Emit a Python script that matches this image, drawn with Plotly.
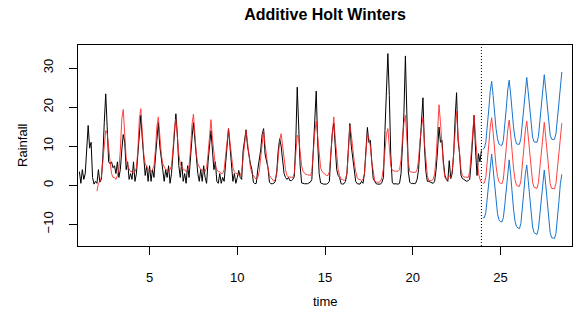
import plotly.graph_objects as go

# ---------------- data ----------------
start_obs = 1.0          # first observation (time units = years)
start_fit = 2.0          # first fitted value
start_fc = 24.0          # first forecast value
freq = 12

rain_obs = [
    3.5, 0.5, 4.0, 1.5, 3.0, 9.0, 15.3, 9.5, 11.0, 2.0, 0.3, 1.0,      # 1
    0.5, 4.0, 0.8, 1.5, 7.0, 16.0, 23.4, 15.0, 6.0, 5.5, 6.0, 4.5,     # 2
    5.0, 3.0, 6.0, 2.0, 4.0, 9.0, 13.0, 11.0, 4.0, 6.0, 1.5, 3.0,      # 3
    1.5, 6.0, 1.0, 3.0, 8.0, 13.0, 17.9, 12.0, 6.0, 2.5, 5.0, 1.0,     # 4
    5.0, 1.0, 4.0, 2.0, 7.0, 12.0, 16.0, 10.0, 6.5, 3.0, 1.0, 4.0,     # 5
    2.0, 5.0, 0.5, 3.0, 9.0, 14.0, 18.3, 13.0, 5.0, 2.0, 6.0, 1.0,     # 6
    3.0, 0.5, 5.0, 2.0, 8.0, 12.0, 16.0, 11.0, 7.0, 3.0, 1.0, 4.0,     # 7
    1.0, 5.0, 2.0, 0.5, 6.0, 10.0, 14.0, 9.0, 4.0, 6.0, 1.0, 0.5,      # 8
    3.0, 0.5, 2.0, 1.0, 6.0, 11.0, 14.5, 10.0, 5.0, 1.0, 3.0, 0.5,     # 9
    2.0, 3.8, 2.0, 1.5, 8.9, 12.0, 14.2, 10.0, 7.0, 5.5, 4.0, 0.8,     # 10
    0.4, 0.5, 4.0, 6.0, 9.0, 13.0, 14.5, 8.0, 6.4, 4.5, 0.8, 0.4,      # 11
    0.4, 0.5, 1.0, 3.5, 8.9, 11.9, 10.0, 6.0, 3.0, 2.0, 1.5, 2.0,      # 12
    1.2, 1.2, 1.5, 2.2, 11.0, 25.1, 12.0, 5.0, 0.6, 0.4, 0.4, 0.4,     # 13
    0.4, 0.6, 0.8, 1.5, 8.5, 17.0, 24.1, 11.0, 3.0, 0.6, 0.4, 0.3,     # 14
    0.3, 0.3, 0.5, 1.0, 8.0, 13.5, 15.9, 10.0, 4.0, 2.5, 2.0, 0.4,     # 15
    0.3, 0.4, 1.0, 3.0, 9.0, 15.8, 10.0, 7.0, 3.0, 1.0, 0.4, 0.3,      # 16
    0.3, 1.0, 0.5, 3.0, 8.5, 14.8, 11.0, 11.5, 6.0, 1.7, 1.0, 0.4,     # 17
    0.3, 0.3, 0.3, 0.8, 2.0, 14.0, 27.0, 33.7, 23.0, 7.7, 0.8, 0.3,    # 18
    0.4, 0.3, 0.3, 0.5, 3.0, 10.2, 18.7, 33.1, 14.5, 3.4, 0.8, 0.4,    # 19
    0.5, 0.4, 0.5, 1.5, 4.0, 10.0, 16.0, 22.4, 10.0, 3.5, 1.0, 1.0,    # 20
    0.8, 0.6, 0.5, 1.0, 4.0, 9.0, 14.9, 11.0, 11.5, 6.0, 2.6, 1.5,     # 21
    1.0, 6.3, 1.7, 3.0, 8.0, 17.0, 23.7, 11.6, 8.3, 2.6, 1.7, 1.5,     # 22
    1.3, 1.0, 1.2, 1.5, 6.0, 12.0, 17.9, 9.0, 2.5, 8.1, 6.0, 8.9,      # 23
]

rain_fitted = [
    -1.5, 0.5, 1.0, 2.0, 6.0, 11.0, 14.0, 13.3, 9.0, 6.0, 3.0, 2.0,    # 2
    2.0, 1.5, 2.5, 4.0, 9.0, 17.0, 19.4, 12.0, 7.0, 5.0, 4.0, 3.5,     # 3
    3.5, 3.0, 3.5, 4.5, 9.0, 17.0, 19.6, 12.0, 8.0, 5.5, 4.5, 4.0,     # 4
    4.0, 3.5, 4.0, 5.0, 9.0, 15.0, 17.5, 11.5, 8.0, 5.5, 4.5, 4.0,     # 5
    4.0, 3.5, 4.0, 5.0, 9.0, 14.5, 17.0, 12.0, 8.0, 5.5, 4.5, 4.0,     # 6
    4.0, 3.5, 4.0, 5.0, 9.0, 15.5, 18.2, 12.0, 8.0, 5.5, 4.5, 4.0,     # 7
    4.0, 3.5, 3.5, 4.5, 8.0, 13.0, 16.8, 12.0, 7.5, 5.0, 4.0, 3.5,     # 8
    3.5, 3.0, 3.0, 4.0, 7.5, 12.0, 14.5, 11.0, 7.0, 4.5, 3.5, 3.0,     # 9
    3.0, 2.5, 2.5, 3.5, 7.0, 11.5, 14.0, 11.0, 7.0, 4.5, 3.0, 2.5,     # 10
    2.0, 1.5, 2.0, 3.5, 7.0, 11.5, 14.0, 10.5, 7.0, 4.5, 2.5, 2.0,     # 11
    1.5, 1.0, 1.5, 3.0, 7.0, 11.5, 13.2, 10.0, 6.5, 4.0, 2.5, 2.1,     # 12
    2.1, 2.0, 2.0, 3.0, 7.5, 12.8, 12.0, 8.0, 5.0, 3.5, 3.0, 2.8,      # 13
    2.7, 2.5, 2.5, 3.5, 9.0, 13.5, 16.4, 12.0, 7.0, 4.5, 3.5, 3.0,     # 14
    2.8, 2.5, 2.5, 3.5, 9.0, 14.5, 17.5, 12.0, 7.0, 4.0, 2.5, 1.5,     # 15
    1.5, 1.2, 1.5, 3.0, 8.5, 15.3, 13.0, 9.0, 6.0, 3.5, 2.0, 1.5,      # 16
    1.5, 1.2, 1.5, 3.0, 8.0, 13.3, 12.0, 10.0, 6.0, 3.0, 1.2, 0.8,     # 17
    0.8, 0.8, 1.0, 2.0, 4.5, 9.0, 13.0, 14.5, 10.0, 5.0, 3.8, 3.6,     # 18
    3.6, 3.6, 3.6, 4.0, 6.5, 12.0, 16.0, 17.9, 12.0, 6.0, 3.5, 3.3,    # 19
    3.3, 3.3, 3.3, 4.0, 6.5, 11.5, 15.5, 17.5, 11.0, 5.5, 2.5, 1.2,    # 20
    1.2, 1.2, 1.5, 3.0, 7.0, 14.0, 20.6, 16.0, 10.0, 5.0, 2.0, 1.5,    # 21
    1.5, 2.5, 2.0, 3.5, 8.0, 14.5, 18.9, 13.0, 8.0, 4.0, 2.5, 2.1,     # 22
    2.1, 2.0, 2.0, 3.5, 9.0, 15.0, 17.9, 12.0, 7.0, 3.0, 1.5, 0.8,     # 23
]

fc_mean = [
    0.5, 0.6, 2.0, 5.6, 10.2, 14.8, 17.3, 13.6, 9.0, 5.0, 2.3, 0.9,    # 24
    0.5, 0.4, 1.6, 5.0, 9.6, 14.2, 16.7, 13.0, 8.3, 4.2, 1.4, 0.0,     # 25
    -0.2, -0.3, 1.1, 4.7, 9.3, 13.9, 16.4, 12.6, 7.9, 3.7, 0.8, -0.5,  # 26
    -0.7, -0.8, 0.7, 4.4, 9.0, 13.6, 16.1, 12.3, 7.6, 3.3, 0.4, -0.8,  # 27
    -0.9, -0.9, 0.5, 4.2, 8.8, 13.4, 15.9,                             # 28
]

fc_upper = [
    9.3, 9.5, 11.0, 14.6, 19.3, 24.0, 26.6, 23.0, 18.4, 14.5, 11.9, 10.6,
    10.3, 10.2, 11.5, 15.0, 19.7, 24.4, 26.9, 23.3, 18.7, 14.7, 12.0, 10.6,
    10.5, 10.5, 12.0, 15.7, 20.3, 25.0, 27.6, 23.9, 19.3, 15.1, 12.3, 11.1,
    11.0, 11.0, 12.5, 16.3, 21.0, 25.7, 28.3, 24.5, 19.9, 15.7, 12.9, 11.8,
    11.7, 11.8, 13.3, 17.1, 21.8, 26.4, 29.0,
]

fc_lower = [
    -8.3, -8.3, -7.0, -3.4, 1.1, 5.6, 8.0, 4.2, -0.4, -4.5, -7.3, -8.8,
    -9.3, -9.4, -8.3, -5.0, -0.5, 4.0, 6.5, 2.7, -2.1, -6.3, -9.2, -10.6,
    -10.9, -11.1, -9.8, -6.3, -1.7, 2.8, 5.2, 1.3, -3.5, -7.7, -10.7, -12.1,
    -12.4, -12.6, -11.1, -7.5, -3.0, 1.5, 3.9, 0.1, -4.7, -9.1, -12.1, -13.4,
    -13.5, -13.6, -12.3, -8.7, -4.2, 0.4, 2.8,
]

x_ticks = [5, 10, 15, 20, 25]
y_ticks = [-10, 0, 10, 20, 30]

# ---------------- time axes ----------------
t_obs = [start_obs + i / freq for i in range(len(rain_obs))]
t_fit = [start_fit + i / freq for i in range(len(rain_fitted))]
t_fc = [start_fc + i / freq for i in range(len(fc_mean))]

FONT = "Liberation Sans, Arial, sans-serif"
BLUE = "#1874CD"
RED = "#FF2020"

fig = go.Figure()
fig.add_trace(go.Scatter(x=t_obs, y=rain_obs, mode="lines",
                         line=dict(color="black", width=1)))
fig.add_trace(go.Scatter(x=t_fit, y=rain_fitted, mode="lines",
                         line=dict(color=RED, width=1), opacity=0.85))
fig.add_trace(go.Scatter(x=t_fc, y=fc_mean, mode="lines",
                         line=dict(color=RED, width=1), opacity=0.85))
fig.add_trace(go.Scatter(x=t_fc, y=fc_upper, mode="lines",
                         line=dict(color=BLUE, width=1)))
fig.add_trace(go.Scatter(x=t_fc, y=fc_lower, mode="lines",
                         line=dict(color=BLUE, width=1)))

# end-of-data marker
fig.add_shape(type="line", xref="x", yref="paper",
              x0=t_obs[-1], x1=t_obs[-1], y0=0, y1=1,
              line=dict(color="black", width=1, dash="1px,2px"))

axis_common = dict(showgrid=False, zeroline=False, showline=True, mirror=True,
                   linecolor="black", linewidth=1, ticks="outside", ticklen=8,
                   tickcolor="black", tickwidth=1,
                   tickfont=dict(family=FONT, size=13, color="black"))

fig.update_layout(
    width=581, height=314,
    margin=dict(l=78, r=9, t=45, b=68),
    paper_bgcolor="white", plot_bgcolor="white",
    showlegend=False,
    title=dict(text="<b>Additive Holt Winters</b>", x=0.5, xref="paper",
               y=1 - 14 / 314, yref="container", yanchor="middle",
               xanchor="center",
               font=dict(family=FONT, size=16, color="black")),
    xaxis=dict(range=[0.92, 29.08], tickvals=x_ticks, ticklabelstandoff=11,
               **axis_common),
    yaxis=dict(range=[-15.54, 35.9], tickvals=y_ticks, tickangle=-90,
               ticklabelstandoff=11, **axis_common),
    annotations=[
        dict(text="time", xref="paper", yref="paper", x=0.5, y=-0.277,
             showarrow=False, xanchor="center", yanchor="middle",
             font=dict(family=FONT, size=13, color="black")),
        dict(text="Rainfall", xref="paper", yref="paper", x=-0.1125, y=0.5,
             showarrow=False, textangle=-90, xanchor="center", yanchor="middle",
             font=dict(family=FONT, size=13, color="black")),
    ],
)

fig.write_html("out.html",
               config={"displayModeBar": False},
               post_script="document.body.style.margin='0';"
                           "document.body.style.overflow='hidden';")
